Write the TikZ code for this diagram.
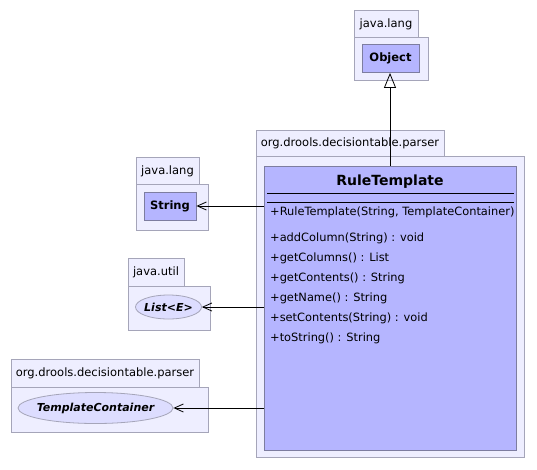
\documentclass[tikz,border=0pt]{standalone}
\usepackage{fontspec}
\setmainfont{DejaVu Sans}
\usetikzlibrary{arrows.meta,shapes.geometric}
\definecolor{pkgfill}{RGB}{238,238,255}
\definecolor{pkgline}{RGB}{165,165,185}
\definecolor{clsfill}{RGB}{181,181,255}
\definecolor{clsline}{RGB}{125,125,160}
\definecolor{ifcfill}{RGB}{221,221,255}
\tikzset{
  pkg/.style={draw=pkgline, fill=pkgfill, line width=0.8pt},
  pkgname/.style={font=\fontsize{11.5}{13}\selectfont, inner sep=0pt},
  cls/.style={draw=clsline, fill=clsfill, line width=0.8pt, inner sep=0pt,
    font=\fontsize{11.5}{13}\selectfont\bfseries},
  ifc/.style={ellipse, draw=pkgline, fill=ifcfill, line width=0.8pt, inner sep=0pt,
    font=\fontsize{11}{13}\selectfont\bfseries\itshape},
  member/.style={anchor=west, inner sep=0pt, font=\fontsize{11.4}{13}\selectfont},
  dep/.style={-{Straight Barb[length=9pt,width=8pt]}, line width=0.8pt},
  inherit/.style={-{Triangle[open,length=15pt,width=12pt]}, line width=0.8pt, fill=white},
}
\begin{document}
\begin{tikzpicture}[x=1pt,y=-1pt]
  \useasboundingbox (0,0) rectangle (537,469);
  % packages
  \draw[pkg] (354,10) rectangle (418,37) node[pkgname] at (386,24) {java.lang};
  \draw[pkg] (354,37) rectangle (428,80);
  \draw[pkg] (256,130) rectangle (444,156) node[pkgname] at (350,143) {org.drools.decisiontable.parser};
  \draw[pkg] (256,156) rectangle (524,457);
  \draw[pkg] (136,157) rectangle (199,184) node[pkgname] at (167.5,171) {java.lang};
  \draw[pkg] (136,184) rectangle (208,230);
  \draw[pkg] (128,258) rectangle (184,286) node[pkgname] at (156,272) {java.util};
  \draw[pkg] (128,286) rectangle (210,330);
  \draw[pkg] (11,359) rectangle (199,387) node[pkgname] at (105,373) {org.drools.decisiontable.parser};
  \draw[pkg] (11,387) rectangle (208,432);
  % classes
  \node[cls, minimum width=57pt, minimum height=28pt] (object) at (390.5,58.5) {Object};
  \node[cls, minimum width=52pt, minimum height=28pt] (string) at (170,206) {String};
  \node[ifc, inner xsep=-1pt, minimum width=66pt, minimum height=24pt] (list) at (168.5,307) {List<E>};
  \node[ifc, inner xsep=-12pt, minimum width=155pt, minimum height=31pt] (container) at (95.5,408) {TemplateContainer};
  \node[cls, minimum width=252pt, minimum height=284pt] (ruletemplate) at (390,308) {};
  \node[font=\fontsize{14}{16}\selectfont\bfseries, inner sep=0pt] (rtname) at (390,182) {RuleTemplate};
  \draw[line width=0.8pt] (267,193) -- (514,193) (267,202) -- (514,202);
  \node[member] (ctor) at (270,212) {+RuleTemplate(String, TemplateContainer)};
  \node[member] (addcol) at (270,238) {+addColumn(String) : void};
  \foreach \y/\txt in {258/{+getColumns() : List}, 278/{+getContents() : String},
      298/{+getName() : String}, 318/{+setContents(String) : void}, 338/{+toString() : String}}
    \node[member] at (270,\y) {\txt};
  % relations
  \draw[inherit] (ruletemplate.north) -- (ruletemplate.north |- object.south);
  \draw[dep] (ruletemplate.west |- string.east) -- (string.east);
  \draw[dep] (ruletemplate.west |- list.east) -- (list.east);
  \draw[dep] (ruletemplate.west |- container.east) -- (container.east);
\end{tikzpicture}
\end{document}
